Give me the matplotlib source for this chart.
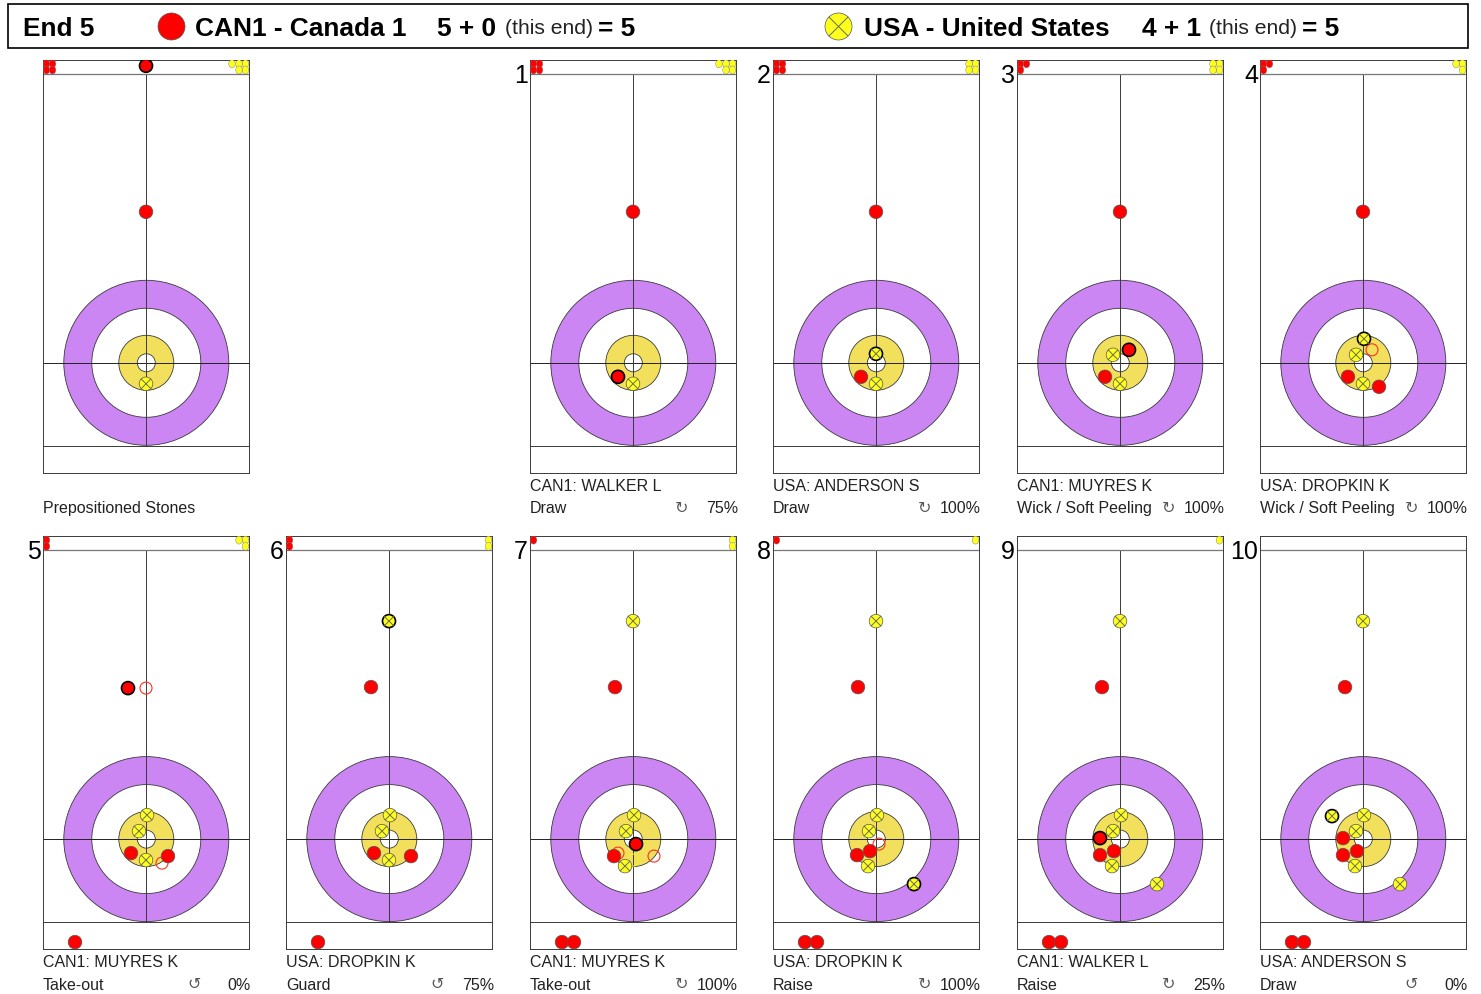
import matplotlib
matplotlib.use('Agg')
from matplotlib import pyplot as plt
from matplotlib.patches import Circle, Ellipse, Rectangle

W, H = 1481, 995
plt.rcParams['font.family'] = ['Liberation Sans', 'DejaVu Sans']

# panel order: prepositioned, shots 1-4, shots 5-10
panel_lefts = [43, 530, 773, 1017, 1260, 43, 286, 530, 773, 1017, 1260]
panel_tops = [60.8] * 5 + [537.1] * 6
panel_numbers = ['', '1', '2', '3', '4', '5', '6', '7', '8', '9', '10']

players = ['', 'CAN1: WALKER L', 'USA: ANDERSON S', 'CAN1: MUYRES K', 'USA: DROPKIN K',
           'CAN1: MUYRES K', 'USA: DROPKIN K', 'CAN1: MUYRES K', 'USA: DROPKIN K',
           'CAN1: WALKER L', 'USA: ANDERSON S']
shots = ['Prepositioned Stones', 'Draw', 'Draw', 'Wick / Soft Peeling', 'Wick / Soft Peeling',
         'Take-out', 'Guard', 'Take-out', 'Raise', 'Raise', 'Draw']
turns = ['', '↻', '↻', '↻', '↻', '↺', '↺', '↻', '↻', '↻', '↺']
scores = ['', '75%', '100%', '100%', '100%', '0%', '75%', '100%', '100%', '25%', '0%']

red_left = [4, 4, 4, 3, 3, 2, 2, 1, 1, 0, 0]
yellow_left = [5, 5, 4, 4, 3, 3, 2, 2, 1, 1, 0]

# stone offsets from the tee, x right and y up
red_stones = [
    [(0, 151)],
    [(0, 151)],
    [(0, 151), (-15, -14)],
    [(0, 151), (-15, -14)],
    [(0, 151), (-15, -14), (16, -24)],
    [(-15, -14), (22, -17), (-71, -103)],
    [(-18, 152), (-15, -14), (22, -17), (-71, -103)],
    [(-18, 152), (-19, -17), (-71, -103), (-59, -103)],
    [(-18, 152), (-19, -16), (-6, -12), (-71, -103), (-59, -103)],
    [(-18, 152), (-20, -16), (-6, -12), (-71, -103), (-59, -103)],
    [(-18, 152), (-20, 1), (-20, -16), (-6, -12), (-71, -103), (-59, -103)],
]
yellow_stones = [
    [(0, -21)],
    [(0, -21)],
    [(0, -21)],
    [(0, -21), (-7, 8)],
    [(0, -21), (-7, 8)],
    [(0, -21), (-7, 8), (1, 24)],
    [(0, -21), (-7, 8), (1, 24)],
    [(0, 218), (-8, -27), (-7, 8), (1, 24)],
    [(0, 218), (-8, -27), (-7, 8), (1, 24)],
    [(0, 218), (-8, -27), (-7, 8), (1, 24), (37, -45)],
    [(0, 218), (-8, -27), (-7, 8), (1, 24), (37, -45)],
]
# the stone just played, outlined in black
last_red = [(0, 297), (-15, -14), None, (9, 13), None, (-18, 151), None, (3, -5), None, (-20, 1), None]
last_yellow = [None, None, (0, 9), None, (1, 24), None, (0, 218), None, (38, -45), None, (-31, 23)]
# where a stone was removed from
ghost_red = [[], [], [], [], [(9, 13)], [(0, 151), (16, -24)], [], [(-15, -14), (21, -17)], [(3, -5)], [], []]
ghost_yellow = [[], [], [], [], [], [], [], [(0, -21)], [], [], []]

PURPLE = '#CB86F4'
GOLD = '#F2E05C'
RED = '#FF0000'
YELLOW = '#FFFF1E'
LINE = '#3A3A3A'
PW, PH = 206, 413


def fx(x):
    return x / W


def fy(y):
    return 1 - y / H


def stone(ax, x, y, color, r=6.8, bold=False, zorder=5):
    edge = 'black' if bold else '#555555'
    lw = 1.2 if bold else 0.5
    ax.add_patch(Circle((x, y), r - 0.3 if bold else r, fc=color, ec=edge, lw=lw, zorder=zorder))
    if color == YELLOW:
        d = r * 0.7
        ax.plot([x - d, x + d], [y - d, y + d], color='#6A6A5A', lw=0.7, zorder=zorder + 0.1)
        ax.plot([x - d, x + d], [y + d, y - d], color='#6A6A5A', lw=0.7, zorder=zorder + 0.1)


def counters(ax, n, xs, color):
    slots = [(xs[0], 299), (xs[0], 292.8), (xs[1], 299), (xs[1], 292.8), (xs[2], 299)]
    for x, y in slots[:n]:
        ax.add_patch(Ellipse((x, y), 6.6, 8, fc=color, ec='#777777', lw=0.3, zorder=5))


fig = plt.figure(figsize=(W / 100, H / 100), dpi=100)

# header
bg = fig.add_axes([0, 0, 1, 1])
bg.set_xlim(0, W)
bg.set_ylim(H, 0)
bg.set_aspect('equal')
bg.axis('off')
bg.add_patch(Rectangle((7.5, 4.5), 1460, 44, fc='white', ec='black', lw=1.2))
stone(bg, 171.5, 27.5, RED, r=13.5)
stone(bg, 838.5, 27.5, YELLOW, r=13.5)

hdr = dict(fontsize=18.9, fontweight='bold', va='center', color='black')
sub = dict(fontsize=15.2, va='center', color='#222222')
hy = fy(29)
fig.text(fx(23), hy, 'End 5', **hdr)
fig.text(fx(195), hy, 'CAN1 - Canada 1', **hdr)
fig.text(fx(437), hy, '5 + 0', **hdr)
fig.text(fx(505), hy + 0.001, '(this end)', **sub)
fig.text(fx(598), hy, '= 5', **hdr)
fig.text(fx(864), hy, 'USA - United States', **hdr)
fig.text(fx(1142), hy, '4 + 1', **hdr)
fig.text(fx(1209), hy + 0.001, '(this end)', **sub)
fig.text(fx(1302), hy, '= 5', **hdr)

for i, (left, top) in enumerate(zip(panel_lefts, panel_tops)):
    ax = fig.add_axes([fx(left), fy(top + PH), PW / W, PH / H])
    ax.set_xlim(-PW / 2, PW / 2)
    ax.set_ylim(-110, 303)
    ax.set_xticks([])
    ax.set_yticks([])
    for s in ax.spines.values():
        s.set_linewidth(0.7)
        s.set_color(LINE)

    # house
    for r, c in [(82.5, PURPLE), (54.5, 'white'), (27.5, GOLD), (9, 'white')]:
        ax.add_patch(Circle((0.3, 0), r, fc=c, ec=LINE, lw=0.6, zorder=1))
    ax.plot([-PW / 2, PW / 2], [0, 0], color='#222222', lw=0.7, zorder=2)
    ax.plot([0.3, 0.3], [-83, 289], color=LINE, lw=0.7, zorder=2)
    ax.plot([-PW / 2, PW / 2], [-83, -83], color=LINE, lw=0.7, zorder=2)
    ax.plot([-PW / 2, PW / 2], [289, 289], color='#777777', lw=0.9, zorder=2)

    counters(ax, red_left[i], [-99.5, -93.5, 0], RED)
    counters(ax, yellow_left[i], [99.5, 93, 86], YELLOW)

    for x, y in ghost_red[i]:
        ax.add_patch(Circle((x, y), 6, fc='none', ec='#FF3020', lw=0.8, zorder=4))
    for x, y in ghost_yellow[i]:
        ax.add_patch(Circle((x, y), 6, fc='none', ec='#F5F020', lw=0.8, zorder=4))
    for x, y in red_stones[i]:
        stone(ax, x, y, RED)
    for x, y in yellow_stones[i]:
        stone(ax, x, y, YELLOW)
    if last_red[i]:
        stone(ax, *last_red[i], RED, bold=True, zorder=6)
    if last_yellow[i]:
        stone(ax, *last_yellow[i], YELLOW, bold=True, zorder=6)

    bottom = top + PH
    right = left + PW
    if panel_numbers[i]:
        fig.text(fx(left - 2), fy(top + 15), panel_numbers[i], fontsize=18, ha='right', va='center')
    fig.text(fx(left), fy(bottom + 12.5), players[i], fontsize=11.5, va='center', color='#222222')
    fig.text(fx(left), fy(bottom + 35), shots[i], fontsize=11.5, va='center', color='#222222')
    if scores[i]:
        fig.text(fx(right + 2), fy(bottom + 35), scores[i], fontsize=11.5, ha='right', va='center', color='#222222')
        fig.text(fx(right - 54.5), fy(bottom + 34.5), turns[i], fontsize=11.5, ha='center', va='center',
                 color='#555555', family='DejaVu Sans')

fig.savefig('out.png', dpi=100)
